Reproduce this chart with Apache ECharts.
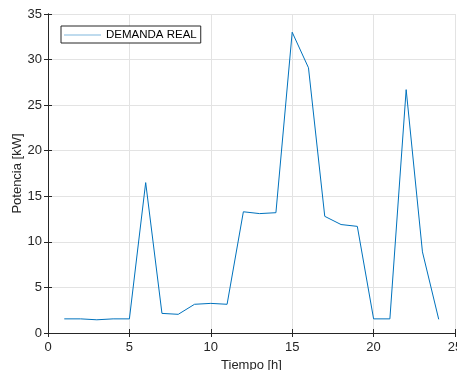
<!DOCTYPE html>
<html>
<head>
<meta charset="utf-8">
<script src="https://cdn.jsdelivr.net/npm/echarts@6/dist/echarts.min.js"></script>
<style>
  html, body { margin: 0; padding: 0; background: #fff; }
  #chart { width: 457px; height: 370px; }
</style>
</head>
<body>
<div id="chart"></div>
<script>
// hours of the day and measured demand (kW)
const hours = [1, 2, 3, 4, 5, 6, 7, 8, 9, 10, 11, 12, 13, 14, 15, 16, 17, 18, 19, 20, 21, 22, 23, 24]
const demand = [1.55, 1.55, 1.45, 1.55, 1.55, 16.5, 2.15, 2.05, 3.15, 3.25, 3.15, 13.3, 13.1, 13.2, 33.0, 29.1, 12.8, 11.9, 11.7, 1.55, 1.55, 26.7, 8.9, 1.5]
const seriesName = 'DEMANDA REAL'

const axisColor = '#262626'
const font = 'Liberation Sans, Arial, Helvetica, sans-serif'

const points = hours.map((h, i) => [h, demand[i]])

const chart = echarts.init(document.getElementById('chart'), null, { renderer: 'canvas' })

const boxAxis = {
    axisLine: { show: true, lineStyle: { color: axisColor, width: 1 } },
    axisTick: { show: true, inside: true, length: 4, lineStyle: { color: axisColor } },
    axisLabel: { show: false },
    splitLine: { show: false }
}

chart.setOption({
    animation: false,
    backgroundColor: '#fff',
    grid: { left: 48, right: 2, top: 14, bottom: 37, containLabel: false, outerBoundsMode: 'none' },
    legend: {
        left: 61, top: 26,
        orient: 'vertical',
        data: [seriesName],
        icon: 'path://M0,0 L100,0 L100,1 L0,1 Z',
        itemWidth: 37, itemHeight: 1,
        itemGap: 0,
        borderColor: axisColor, borderWidth: 1,
        padding: [3, 4, 2, 3],
        backgroundColor: '#fff',
        textStyle: { color: '#000', fontSize: 11.5, fontFamily: font }
    },
    xAxis: [{
        type: 'value', min: 0, max: 25, interval: 5,
        name: 'Tiempo [h]', nameLocation: 'middle', nameGap: 26,
        nameMoveOverlap: false,
        nameTextStyle: { color: axisColor, fontSize: 13, fontFamily: font },
        axisLine: { show: true, onZero: false, lineStyle: { color: axisColor, width: 1 } },
        axisTick: { show: true, inside: true, length: 4, lineStyle: { color: axisColor } },
        axisLabel: { color: axisColor, fontSize: 13, fontFamily: font, margin: 8 },
        splitLine: { show: true, lineStyle: { color: '#e3e3e3', width: 1 } }
    }, Object.assign({ type: 'value', min: 0, max: 25, interval: 5, position: 'top' }, boxAxis)],
    yAxis: [{
        type: 'value', min: 0, max: 35, interval: 5,
        name: 'Potencia [kW]', nameLocation: 'middle', nameGap: 24,
        nameMoveOverlap: false,
        nameTextStyle: { color: axisColor, fontSize: 13, fontFamily: font },
        axisLine: { show: true, onZero: false, lineStyle: { color: axisColor, width: 1 } },
        axisTick: { show: true, inside: true, length: 4, lineStyle: { color: axisColor } },
        axisLabel: { color: axisColor, fontSize: 13, fontFamily: font, margin: 6 },
        splitLine: { show: true, lineStyle: { color: '#e3e3e3', width: 1 } }
    }, Object.assign({ type: 'value', min: 0, max: 35, interval: 5, position: 'right' }, boxAxis)],
    series: [{
        name: seriesName,
        type: 'line',
        data: points,
        symbol: 'none',
        color: '#0072BD',
        lineStyle: { color: '#0072BD', width: 1 }
    }]
})
</script>
</body>
</html>
